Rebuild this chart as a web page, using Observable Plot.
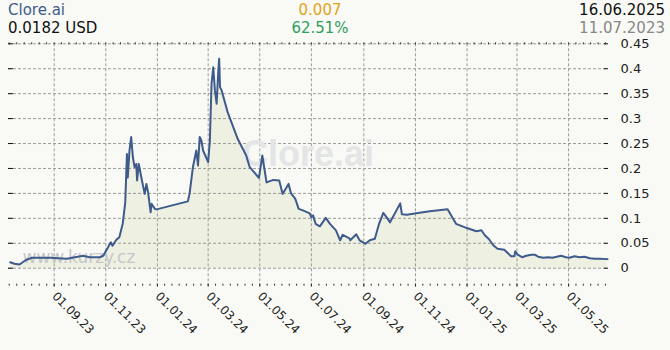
<!DOCTYPE html>
<html>
<head>
<meta charset="utf-8">
<script src="https://cdn.jsdelivr.net/npm/d3@7"></script>
<script src="https://cdn.jsdelivr.net/npm/@observablehq/plot@0.6"></script>
<style>
  html, body { margin: 0; padding: 0; background: #f9faf5; }
  #hdr { position: relative; width: 670px; height: 38px; font-family: "DejaVu Sans", sans-serif; font-size: 15px; }
  #hdr span { position: absolute; white-space: nowrap; line-height: 18px; }
  #chart svg { display: block; }
</style>
</head>
<body>
<div id="hdr">
  <span style="left:8px;top:1px;color:#3e5a8a">Clore.ai</span>
  <span style="left:8px;top:19px;color:#111">0.0182 USD</span>
  <span style="left:320px;top:1px;transform:translateX(-50%);color:#e3a21a">0.007</span>
  <span style="left:320px;top:19px;transform:translateX(-50%);color:#2f9e5c">62.51%</span>
  <span style="right:5px;top:1px;color:#111">16.06.2025</span>
  <span style="right:5px;top:19px;color:#888">11.07.2023</span>
</div>
<div id="chart"></div>
<script>
const dates = ["2023-07-11","2023-07-16","2023-07-22","2023-07-30","2023-08-06","2023-08-27","2023-09-16","2023-10-05","2023-10-13","2023-10-25","2023-10-29","2023-11-07","2023-11-09","2023-11-13","2023-11-17","2023-11-21","2023-11-24","2023-11-26","2023-11-27","2023-11-29","2023-12-01","2023-12-03","2023-12-05","2023-12-07","2023-12-08","2023-12-10","2023-12-13","2023-12-17","2023-12-19","2023-12-21","2023-12-24","2023-12-25","2023-12-29","2023-12-31","2024-02-06","2024-02-08","2024-02-12","2024-02-16","2024-02-18","2024-02-20","2024-02-22","2024-02-24","2024-03-01","2024-03-03","2024-03-05","2024-03-07","2024-03-09","2024-03-11","2024-03-13","2024-03-14","2024-03-15","2024-03-17","2024-03-24","2024-03-30","2024-04-05","2024-04-15","2024-04-19","2024-04-30","2024-05-04","2024-05-09","2024-05-17","2024-05-24","2024-05-28","2024-06-04","2024-06-07","2024-06-12","2024-06-16","2024-06-21","2024-06-29","2024-07-01","2024-07-03","2024-07-06","2024-07-11","2024-07-18","2024-07-23","2024-07-30","2024-08-04","2024-08-07","2024-08-15","2024-08-16","2024-08-23","2024-08-27","2024-09-03","2024-09-08","2024-09-14","2024-09-19","2024-09-24","2024-09-28","2024-10-02","2024-10-14","2024-10-16","2024-10-22","2024-11-02","2024-11-18","2024-12-09","2024-12-19","2024-12-31","2025-01-12","2025-01-18","2025-01-22","2025-01-27","2025-02-01","2025-02-06","2025-02-14","2025-02-22","2025-02-26","2025-02-27","2025-03-02","2025-03-07","2025-03-12","2025-03-18","2025-03-22","2025-03-26","2025-04-01","2025-04-07","2025-04-12","2025-04-22","2025-04-28","2025-05-02","2025-05-08","2025-05-14","2025-05-20","2025-05-26","2025-06-01","2025-06-07","2025-06-16"];
const prices = [0.012,0.009,0.0075,0.017,0.021,0.021,0.019,0.025,0.022,0.022,0.025,0.052,0.045,0.056,0.062,0.089,0.132,0.229,0.182,0.236,0.263,0.223,0.203,0.209,0.176,0.209,0.182,0.149,0.169,0.152,0.112,0.129,0.119,0.118,0.134,0.149,0.203,0.236,0.206,0.263,0.256,0.236,0.213,0.256,0.370,0.403,0.356,0.330,0.396,0.420,0.363,0.356,0.313,0.286,0.259,0.226,0.203,0.181,0.226,0.172,0.177,0.176,0.149,0.169,0.150,0.139,0.119,0.116,0.110,0.102,0.106,0.089,0.084,0.101,0.089,0.076,0.056,0.067,0.060,0.056,0.068,0.056,0.049,0.056,0.059,0.089,0.111,0.102,0.092,0.130,0.108,0.107,0.110,0.114,0.118,0.089,0.081,0.074,0.076,0.066,0.058,0.046,0.039,0.037,0.024,0.024,0.034,0.027,0.022,0.025,0.027,0.027,0.023,0.021,0.022,0.021,0.025,0.022,0.021,0.024,0.022,0.023,0.020,0.019,0.019,0.0182];
const yTicks = [0, 0.05, 0.1, 0.15, 0.2, 0.25, 0.3, 0.35, 0.4, 0.45];
const xDomain = ["2023-07-09", "2025-06-16"];
const watermark = "Clore.ai";
const site = "www.kurzy.cz";

const data = dates.map((d, i) => ({date: new Date(d), price: prices[i]}));
const d0 = new Date(xDomain[0]), d1 = new Date(xDomain[1]);
const allMajor = d3.utcMonth.every(2).range(d3.utcMonth.floor(d0), d3.utcMonth.offset(d1, 2));
const majors = allMajor.filter(d => d >= d0 && d <= d1);
const minors = [];
for (let i = 0; i < allMajor.length - 1; i++) {
  const a = +allMajor[i], b = +allMajor[i + 1];
  for (let k = 0; k < 7; k++) {
    const t = new Date(a + (b - a) * k / 7);
    if (t >= d0 && t <= d1) minors.push(t);
  }
}

const chart = Plot.plot({
  width: 670,
  height: 312,
  marginTop: 5.3,
  marginBottom: 82.3,
  marginLeft: 8,
  marginRight: 63,
  x: {type: "utc", domain: [d0, d1], label: null},
  y: {domain: [0, 0.45], label: null},
  style: {background: "#f9faf5", fontFamily: "DejaVu Sans, sans-serif", fontSize: "13px", color: "#222"},
  marks: [
    Plot.areaY(data, {x: "date", y: "price", fill: "#eef0e2"}),
    Plot.gridY({ticks: yTicks, stroke: "#9a9a9a", strokeOpacity: 1, strokeDasharray: "3,2"}),
    Plot.gridX({ticks: majors, stroke: "#9a9a9a", strokeOpacity: 1, strokeDasharray: "3,2", insetBottom: -16}),
    Plot.text([watermark], {frameAnchor: "middle", text: d => d, fontFamily: "Liberation Sans", fontWeight: "bold", fontSize: 36, fill: "#e4e5e6", dy: -2}),
    Plot.text([site], {frameAnchor: "bottom-left", text: d => d, textAnchor: "start", lineAnchor: "bottom", fontSize: 17, fill: "#c4c8cc", dx: 14, dy: -5}),
    Plot.lineY(data, {x: "date", y: "price", stroke: "#3e5b8c", strokeWidth: 2}),
    Plot.axisY({anchor: "right", label: null, ticks: yTicks, tickSize: 4, tickPadding: 13, dx: -4, stroke: "#111", tickFormat: d => String(+d.toFixed(2)), fontSize: 13, fill: "#222"}),
    Plot.axisY({anchor: "left", label: null, ticks: yTicks, tickSize: -5, stroke: "#111", tickFormat: () => ""}),
    Plot.axisX({anchor: "bottom", label: null, ticks: minors, tickSize: 2, dy: 16, stroke: "#333", tickFormat: () => ""}),
    Plot.axisX({anchor: "bottom", label: null, ticks: majors, tickSize: 3, tickPadding: 7, dy: 16, tickRotate: 45, stroke: "#333", tickFormat: d3.utcFormat("%d.%m.%y"), fontSize: 12, fill: "#222"}),
    Plot.axisX({anchor: "top", label: null, ticks: minors, tickSize: 2, stroke: "#333", tickFormat: () => ""})
  ]
});
document.getElementById("chart").appendChild(chart);
</script>
</body>
</html>
